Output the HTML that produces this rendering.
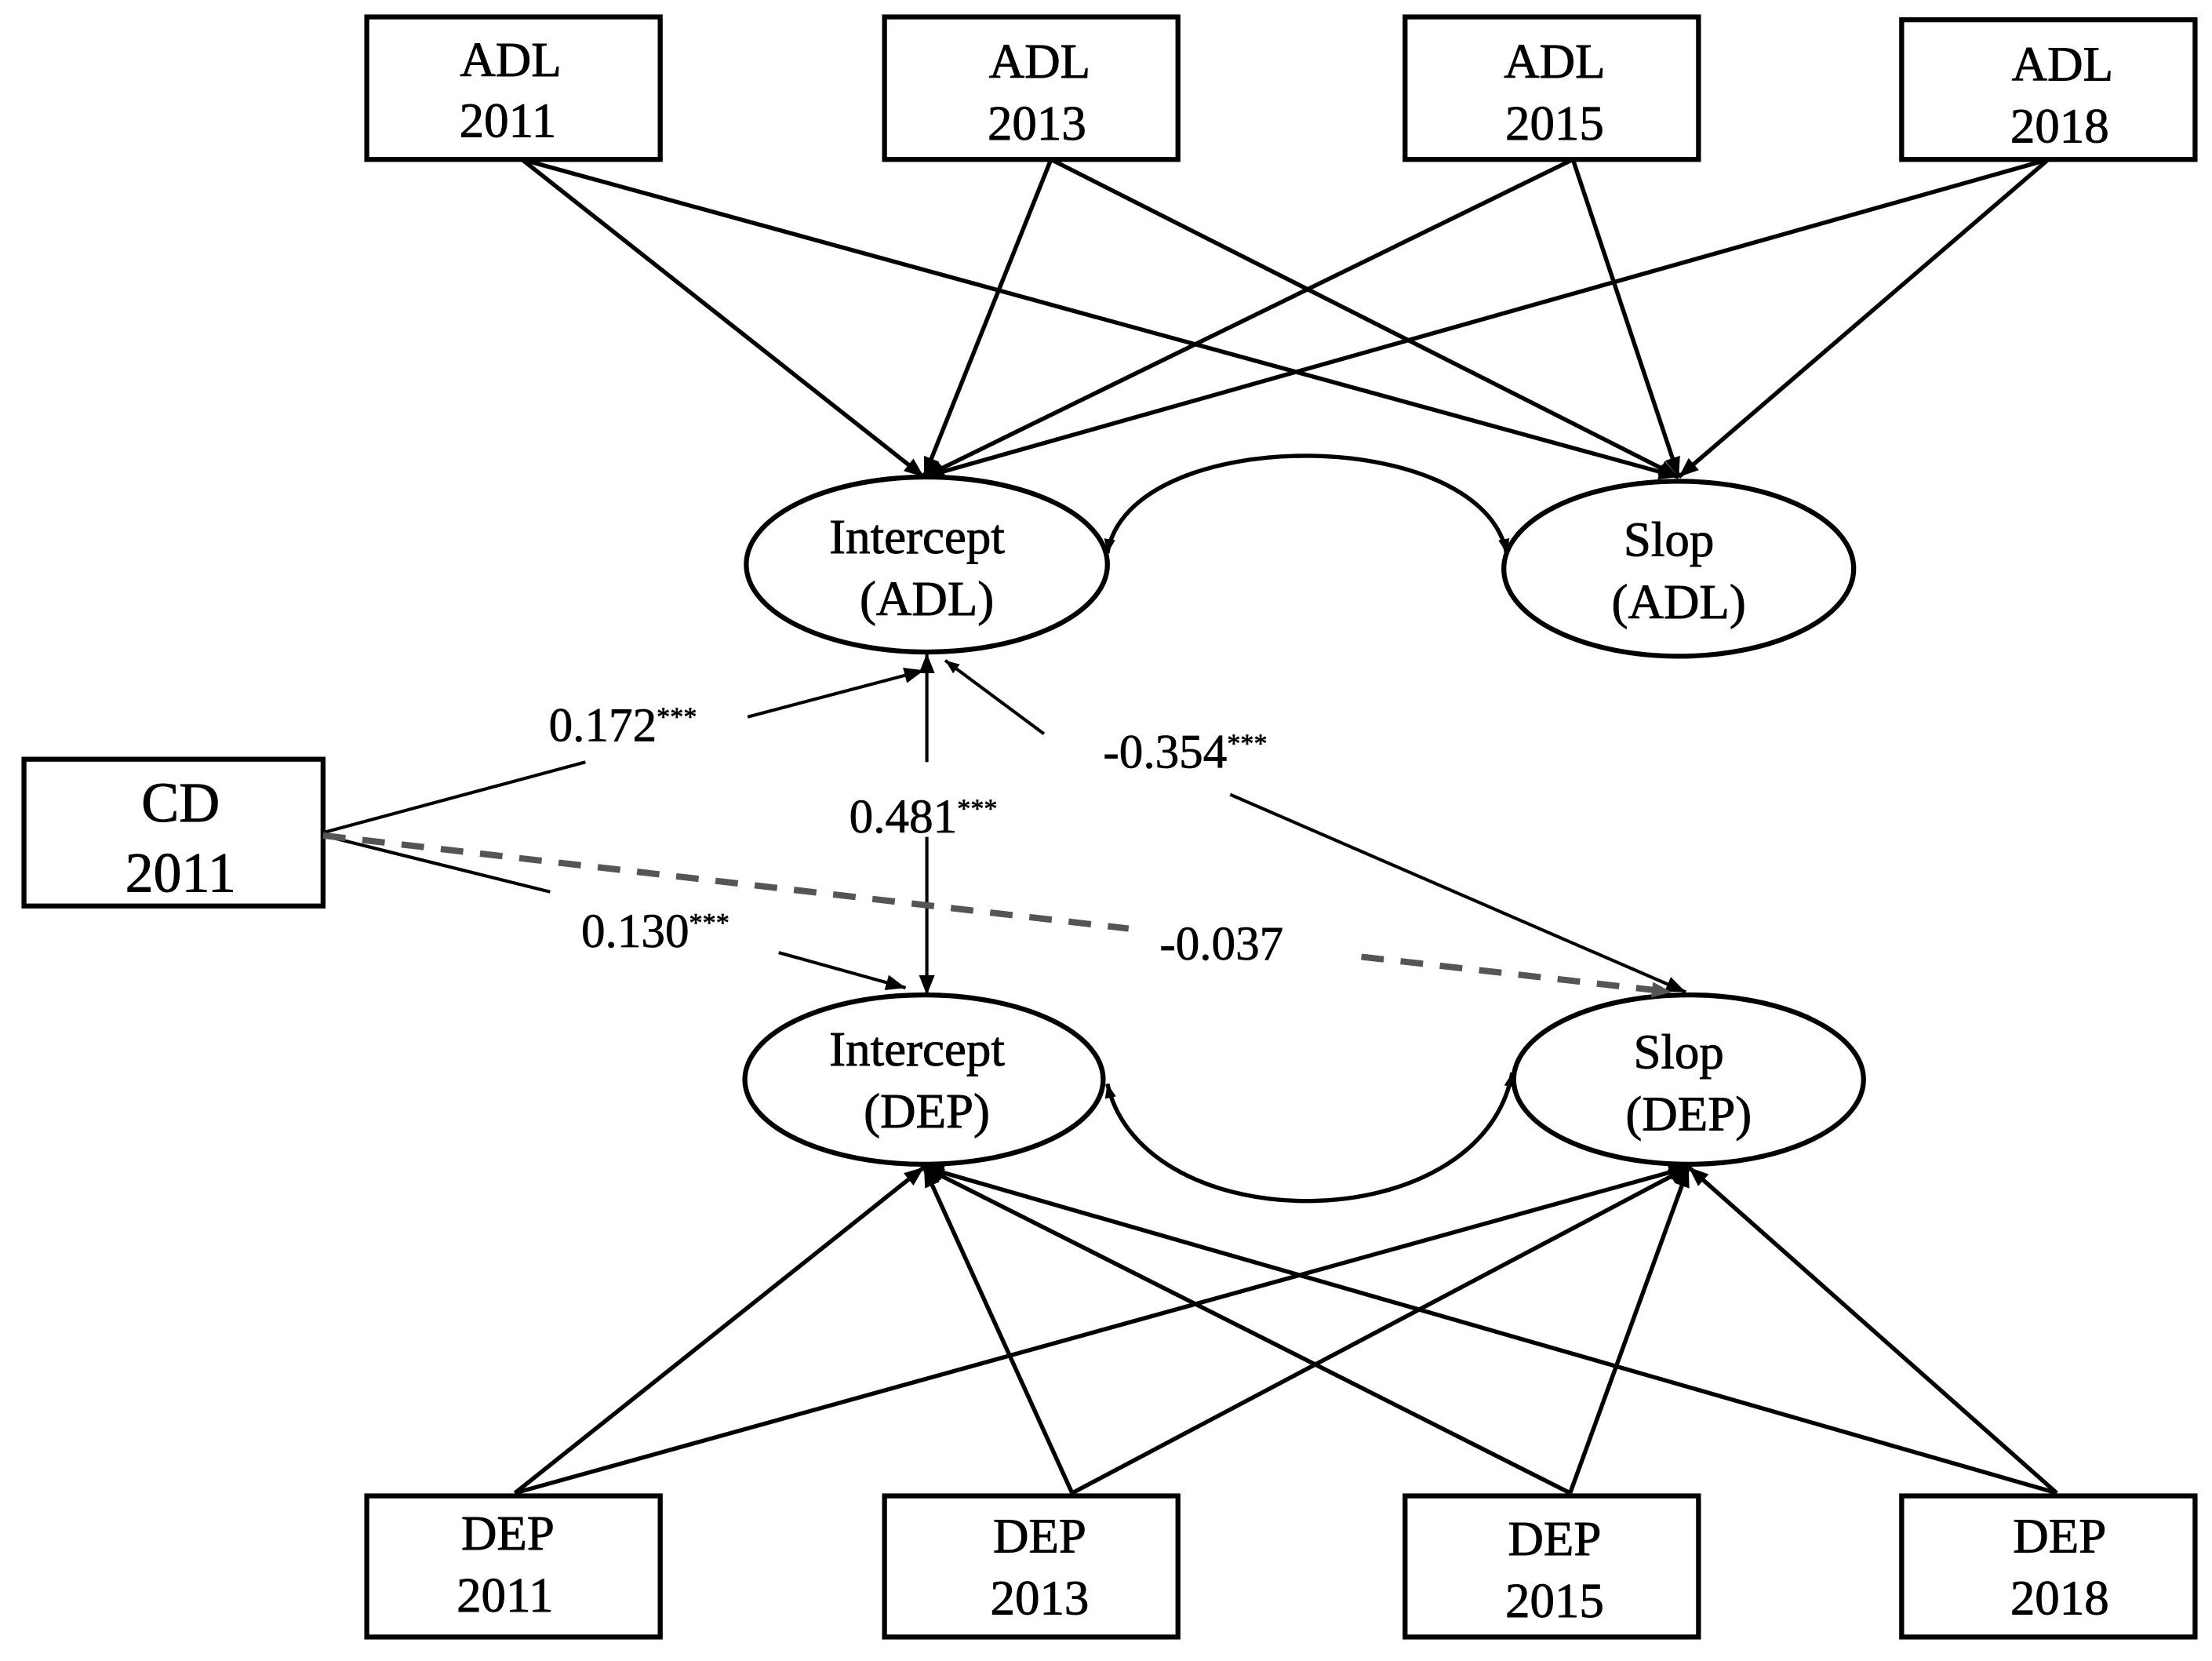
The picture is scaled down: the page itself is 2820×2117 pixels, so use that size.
<!DOCTYPE html>
<html><head><meta charset="utf-8"><style>
html,body{margin:0;padding:0;background:#fff}
svg{display:block}
text{font-family:"Liberation Serif",serif;fill:#000}
</style></head><body>
<svg width="2820" height="2117" viewBox="0 0 1568 1177" preserveAspectRatio="none" xmlns="http://www.w3.org/2000/svg">
<defs>
<marker id="a" viewBox="0 0 10 10" refX="10" refY="5" markerWidth="12" markerHeight="10" orient="auto-start-reverse" markerUnits="userSpaceOnUse"><path d="M0,1 L10,5 L0,9 z" fill="#000"/></marker>
<marker id="b" viewBox="0 0 10 10" refX="10" refY="5" markerWidth="18" markerHeight="14" orient="auto-start-reverse" markerUnits="userSpaceOnUse"><path d="M0,1 L10,5 L0,9 z" fill="#000"/></marker>
<marker id="g" viewBox="0 0 10 10" refX="10" refY="5" markerWidth="18" markerHeight="14" orient="auto" markerUnits="userSpaceOnUse"><path d="M0,1 L10,5 L0,9 z" fill="#555"/></marker>
</defs>
<g fill="none" stroke="#000" stroke-width="3.5">
<rect x="260" y="12" width="208" height="101"/>
<rect x="627" y="12" width="208" height="101"/>
<rect x="996" y="12" width="208" height="101"/>
<rect x="1348" y="14" width="208" height="99"/>
<rect x="260" y="1060" width="208" height="100"/>
<rect x="627" y="1060" width="208" height="100"/>
<rect x="996" y="1060" width="208" height="100"/>
<rect x="1348" y="1060" width="208" height="100"/>
<rect x="17" y="538" width="212" height="104"/>
<ellipse cx="657" cy="400" rx="128" ry="62"/>
<ellipse cx="1190" cy="403" rx="124" ry="62"/>
<ellipse cx="655" cy="765" rx="127" ry="60"/>
<ellipse cx="1197" cy="765" rx="124" ry="60"/>
</g>
<g stroke="#000" stroke-width="3" fill="none" marker-end="url(#b)">
<line x1="370" y1="113" x2="655" y2="338"/>
<line x1="370" y1="113" x2="1190" y2="338"/>
<line x1="745" y1="113" x2="655" y2="338"/>
<line x1="745" y1="113" x2="1190" y2="338"/>
<line x1="1115" y1="113" x2="655" y2="338"/>
<line x1="1115" y1="113" x2="1190" y2="338"/>
<line x1="1452" y1="113" x2="655" y2="338"/>
<line x1="1452" y1="113" x2="1190" y2="338"/>
<line x1="365" y1="1058" x2="655" y2="827"/>
<line x1="365" y1="1058" x2="1197" y2="827"/>
<line x1="760" y1="1058" x2="655" y2="827"/>
<line x1="760" y1="1058" x2="1197" y2="827"/>
<line x1="1113" y1="1058" x2="655" y2="827"/>
<line x1="1113" y1="1058" x2="1197" y2="827"/>
<line x1="1458" y1="1058" x2="655" y2="827"/>
<line x1="1458" y1="1058" x2="1197" y2="827"/>
</g>
<g stroke="#000" stroke-width="3" fill="none">
<path d="M785,392 C800,300 1050,300 1068,392" marker-start="url(#a)" marker-end="url(#a)"/>
<path d="M785,768 C810,880 1050,880 1072,760" marker-start="url(#a)" marker-end="url(#a)"/>
</g>
<g stroke="#000" stroke-width="2.3" fill="none">
<polyline points="229,590 415,540"/>
<line x1="530" y1="508" x2="655" y2="475" marker-end="url(#b)"/>
<polyline points="229,592 390,632"/>
<line x1="552" y1="675" x2="642" y2="700" marker-end="url(#b)"/>
<line x1="657" y1="540" x2="657" y2="463" marker-end="url(#b)"/>
<line x1="657" y1="593" x2="657" y2="705" marker-end="url(#b)"/>
<line x1="740" y1="520" x2="670" y2="468" marker-end="url(#a)"/>
<line x1="872" y1="563" x2="1195" y2="703" marker-end="url(#b)"/>
</g>
<g stroke="#555" stroke-width="4.5" stroke-dasharray="16,12" fill="none">
<line x1="229" y1="592" x2="800" y2="658"/>
<line x1="965" y1="678" x2="1185" y2="703" marker-end="url(#g)"/>
</g>
<g font-size="35" text-anchor="middle" stroke="#000" stroke-width="0.5">
<text x="362" y="54">ADL</text><text x="360" y="97">2011</text>
<text x="737" y="55">ADL</text><text x="735" y="99">2013</text>
<text x="1102" y="55">ADL</text><text x="1102" y="99">2015</text>
<text x="1462" y="57">ADL</text><text x="1460" y="101">2018</text>
<text x="360" y="1098">DEP</text><text x="358" y="1142">2011</text>
<text x="737" y="1100">DEP</text><text x="737" y="1144">2013</text>
<text x="1102" y="1102">DEP</text><text x="1102" y="1146">2015</text>
<text x="1460" y="1100">DEP</text><text x="1460" y="1144">2018</text>
<text x="650" y="392">Intercept</text><text x="657" y="436">(ADL)</text>
<text x="1183" y="394">Slop</text><text x="1190" y="438">(ADL)</text>
<text x="650" y="755">Intercept</text><text x="657" y="799">(DEP)</text>
<text x="1190" y="757">Slop</text><text x="1197" y="801">(DEP)</text>
<text x="128" y="582" font-size="40">CD</text><text x="128" y="632" font-size="40">2011</text>
</g>
<g font-size="34" stroke="#000" stroke-width="0.4">
<text x="389" y="525">0.172<tspan font-size="19" dy="-11">***</tspan></text>
<text x="412" y="671">0.130<tspan font-size="19" dy="-11">***</tspan></text>
<text x="602" y="590">0.481<tspan font-size="19" dy="-11">***</tspan></text>
<text x="782" y="544">-0.354<tspan font-size="19" dy="-11">***</tspan></text>
<text x="822" y="680">-0.037</text>
</g>
</svg>
</body></html>
